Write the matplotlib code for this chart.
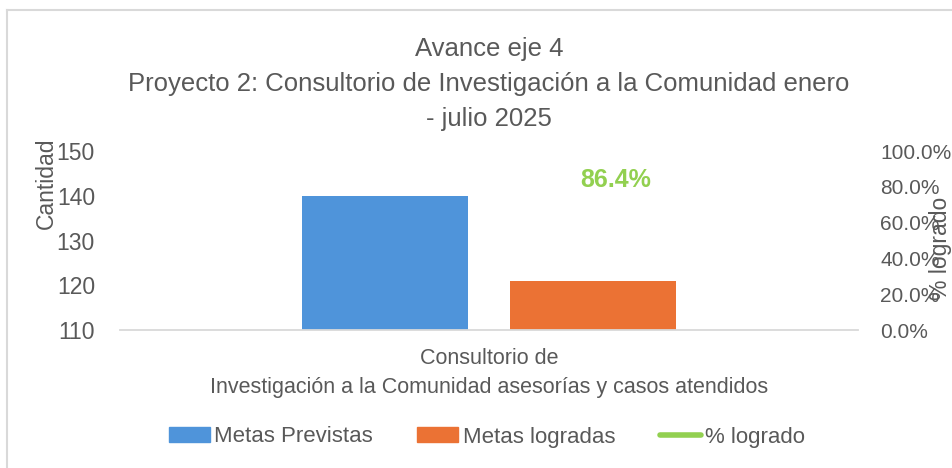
import numpy as np
import matplotlib
matplotlib.use("Agg")
import matplotlib.pyplot as plt
from matplotlib.lines import Line2D
from matplotlib.patches import Patch

plt.rcParams['font.family'] = ['Liberation Sans', 'DejaVu Sans']

# data
categoria = ["Consultorio de\nInvestigación a la Comunidad asesorías y casos atendidos"]
metas_previstas = [140]
metas_logradas = [121]
pct_logrado = [86.4]

azul = '#4F94DA'
naranja = '#EB7234'
verde = '#92D050'
gris_texto = '#595959'

W, H = 953, 468
fig = plt.figure(figsize=(W / 100, H / 100), dpi=100)

# outer chart border (light gray)
fig.add_artist(Line2D([7 / W, 7 / W], [0, 1 - 9.5 / H], color='#D9D9D9', lw=1.5))
fig.add_artist(Line2D([7 / W, 1], [1 - 9.5 / H, 1 - 9.5 / H], color='#D9D9D9', lw=1.5))

ax = fig.add_axes([120 / W, 1 - 330 / H, 738 / W, 179 / H])
ax2 = ax.twinx()

x = np.arange(len(categoria))
w = 0.225
ax.bar(x - 0.1415, metas_previstas, width=w, color=azul, zorder=2)
ax.bar(x + 0.1415, metas_logradas, width=w, color=naranja, zorder=2)

ax.set_ylim(110, 150)
ax.set_yticks([110, 120, 130, 140, 150])
ax.set_xlim(-0.5, 0.5)
ax.set_xticks(x)
ax.set_xticklabels(categoria, fontsize=15.5, color=gris_texto, linespacing=1.5)

ax2.plot(x, pct_logrado, color=verde, lw=3)
ax2.set_ylim(0, 100)
ax2.set_yticks(np.arange(0, 101, 20))
ax2.set_yticklabels([f"{v:.1f}%" for v in np.arange(0, 101, 20)])
ax2.text(x[0] + 0.171, pct_logrado[0] - 2.5, f"{pct_logrado[0]:.1f}%", color=verde,
         fontsize=18, fontweight='bold', ha='center', va='center')

for a in (ax, ax2):
    for s in a.spines.values():
        s.set_visible(False)
    a.tick_params(length=0, labelcolor=gris_texto)
ax.spines['bottom'].set_visible(True)
ax.spines['bottom'].set_color('#D9D9D9')
ax.spines['bottom'].set_linewidth(1.3)
ax.tick_params(axis='x', pad=13, labelsize=15.5)
ax.tick_params(axis='y', pad=18, labelsize=16.5)
ax2.tick_params(axis='y', pad=16, labelsize=15)

fig.text(46 / W, 1 - 183 / H, "Cantidad", rotation=90, fontsize=16.5, color=gris_texto,
         ha='center', va='center')
fig.text(941 / W, 1 - 248 / H, "% logrado", rotation=90, fontsize=16.5, color=gris_texto,
         ha='center', va='center')

fig.text(489 / W, 1 - 84 / H,
         "Avance eje 4\nProyecto 2: Consultorio de Investigación a la Comunidad enero\n- julio 2025",
         fontsize=18.5, color=gris_texto, ha='center', va='center', linespacing=1.6)

handles = [Patch(color=azul, label='Metas Previstas'),
           Patch(color=naranja, label='Metas logradas'),
           Line2D([0], [0], color=verde, lw=4, label='% logrado', solid_capstyle='round')]
fig.legend(handles=handles, loc='center', bbox_to_anchor=(487 / W, 1 - 437 / H), ncol=3,
           frameon=False, prop={'size': 16},
           labelcolor=gris_texto, handlelength=1.85,
           handleheight=0.65, handletextpad=0.2, columnspacing=2.0)

fig.savefig('out.png', dpi=100)
